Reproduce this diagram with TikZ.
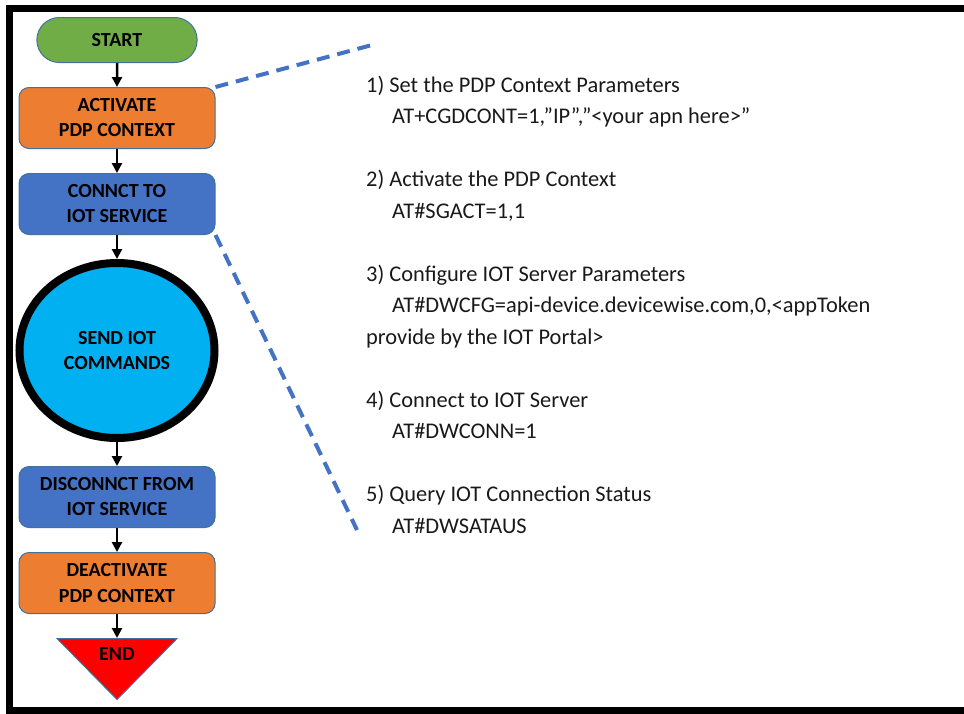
\documentclass[tikz,border=0pt]{standalone}
\usepackage{fontspec}
\setmainfont{Carlito}
\usetikzlibrary{shapes.misc,shapes.geometric,chains,arrows.meta,positioning}
\definecolor{greenbox}{HTML}{70AD47}
\definecolor{orangebox}{HTML}{ED7D31}
\definecolor{bluebox}{HTML}{4472C4}
\definecolor{cyanbox}{HTML}{00B0F0}
\definecolor{edgeline}{HTML}{41719C}
\tikzset{stepbox/.style={rectangle, rounded corners=10pt, draw=edgeline, line width=1pt, minimum width=196pt, minimum height=61pt, align=center, font=\fontsize{20}{25}\selectfont\bfseries, text=black},
  terminal/.style={rounded rectangle, draw=edgeline, line width=1pt, fill=greenbox, minimum width=167pt, minimum height=45pt, font=\fontsize{20}{25}\selectfont\bfseries},
  sendcircle/.style={ellipse, draw=black, line width=8pt, fill=cyanbox, minimum width=195pt, minimum height=175pt, align=center, font=\fontsize{20}{25}\selectfont\bfseries},
  endtri/.style={isosceles triangle, shape border rotate=270, isosceles triangle stretches, draw=edgeline, line width=1pt, fill=red, minimum width=120pt, minimum height=61pt, inner sep=0pt},
  flow/.style={-{Triangle[length=10pt,width=10pt]}, line width=2.5pt},
  callout/.style={draw=bluebox, line width=4pt, dash pattern=on 13pt off 8pt}}

\begin{document}
\begin{tikzpicture}[x=1pt, y=-1pt, start chain=going below, node distance=24pt]
    \useasboundingbox (0,0) rectangle (964,713);
    \draw[line width=7pt] (9,8) rectangle (990,710);
    % flow chart
    \node[terminal,on chain] (start) at (117,40) {START};
    \node[stepbox,fill=orangebox,on chain] (act) {ACTIVATE\\PDP CONTEXT};
    \node[stepbox,fill=bluebox,on chain] (conn) {CONNCT TO\\IOT SERVICE};
    \node[sendcircle,on chain] (send) {SEND IOT\\COMMANDS};
    \node[stepbox,fill=bluebox,on chain] (disc) {DISCONNCT FROM\\IOT SERVICE};
    \node[stepbox,fill=orangebox,on chain] (deact) {DEACTIVATE\\PDP CONTEXT};
    \node[endtri,on chain,label={[anchor=north,yshift=-6pt,font=\fontsize{20}{25}\selectfont\bfseries]north:END}] (stop) {};
    \draw[flow] (start) -- (act);
    \draw[flow] (act) -- (conn);
    \draw[flow] (conn) -- (send);
    \draw[flow] (send) -- (disc);
    \draw[flow] (disc) -- (deact);
    \draw[flow] (deact) -- (stop);
    % AT command list
    \node[anchor=base west, inner sep=0pt, align=left, font=\fontsize{22.4}{31.5}\selectfont, text=black!90] (steps) at (366,533)
      {1) Set the PDP Context Parameters\\
       \hspace*{26pt}AT+CGDCONT=1,”IP”,”<your apn here>”\\[31.5pt]
       2) Activate the PDP Context\\
       \hspace*{26pt}AT\#SGACT=1,1\\[31.5pt]
       3) Configure IOT Server Parameters\\
       \hspace*{26pt}AT\#DWCFG=api-device.devicewise.com,0,<appToken\\
       provide by the IOT Portal>\\[31.5pt]
       4) Connect to IOT Server\\
       \hspace*{26pt}AT\#DWCONN=1\\[31.5pt]
       5) Query IOT Connection Status\\
       \hspace*{26pt}AT\#DWSATAUS};
    \coordinate (topend) at (372,45);
    \coordinate (botend) at (357,530);
    \draw[callout] (act.north east) -- (topend);
    \draw[callout] (conn.south east) -- (botend);
\end{tikzpicture}
\end{document}
